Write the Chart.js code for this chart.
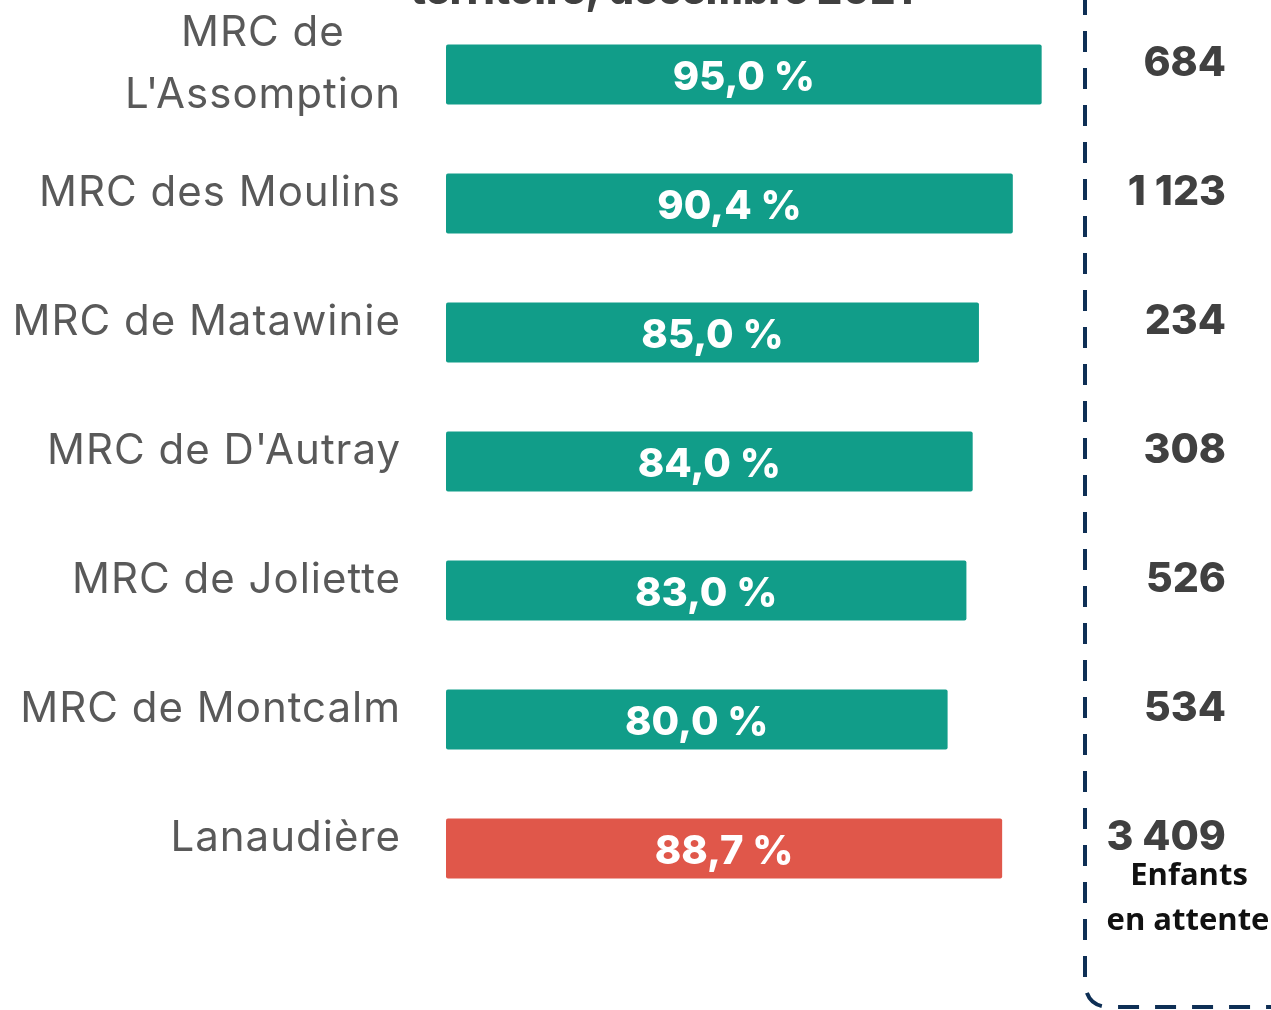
<!DOCTYPE html>
<html>
<head>
<meta charset="utf-8">
<script src="https://cdn.jsdelivr.net/npm/chart.js@4"></script>
<style>
 html, body { margin: 0; padding: 0; background: #ffffff; overflow: hidden; }
 #chart { display: block; }
</style>
</head>
<body>
<canvas id="chart" width="1271" height="1010"></canvas>
<script>
// categories and values
var categories = [
 ["MRC de", "L'Assomption"],
 "MRC des Moulins",
 "MRC de Matawinie",
 "MRC de D'Autray",
 "MRC de Joliette",
 "MRC de Montcalm",
 "Lanaudière"
];
var pourcentages = [95.0, 90.4, 85.0, 84.0, 83.0, 80.0, 88.7];
var enfantsEnAttente = [684, 1123, 234, 308, 526, 534, 3409];
var titre = "territoire, décembre 2021";

var vert = "#119d89";
var rouge = "#e0574a";
var barColors = pourcentages.map(function (v, i) {
 return i === pourcentages.length - 1 ? rouge : vert;
});

function formatPct(v) {
 return v.toFixed(1).replace(".", ",") + " %";
}

function formatNombre(n) {
 return String(n).replace(/\B(?=(\d{3})+(?!\d))/g, " ");
}

// labels, values and the dashed box are drawn on top of the chart
var annotations = {
 id: "annotations",
 afterDatasetsDraw: function (chart) {
  var ctx = chart.ctx;
  var yScale = chart.scales.y;
  var meta = chart.getDatasetMeta(0);
  ctx.save();

  // cut-off title at the very top
  ctx.fillStyle = "#404040";
  ctx.font = "800 40px Inter";
  ctx.textAlign = "center";
  ctx.textBaseline = "alphabetic";
  ctx.fillText(titre, 662, 4);

  ctx.textBaseline = "middle";
  categories.forEach(function (cat, i) {
   var yc = yScale.getPixelForValue(i);
   var bar = meta.data[i];

   // category label on the left
   ctx.fillStyle = "#595959";
   ctx.font = "42px Inter";
   ctx.letterSpacing = "1px";
   if (Array.isArray(cat)) {
    ctx.textAlign = "center";
    var w = Math.max.apply(null, cat.map(function (t) { return ctx.measureText(t).width; }));
    var cx = 401 - w / 2;
    cat.forEach(function (t, k) {
     ctx.fillText(t, cx, yc - 10 + (k - (cat.length - 1) / 2) * 62);
    });
   } else {
    ctx.textAlign = "right";
    ctx.fillText(cat, 401, yc - 10);
   }
   ctx.letterSpacing = "0px";

   // value inside bar
   ctx.fillStyle = "#ffffff";
   ctx.font = "800 40px Inter";
   ctx.textAlign = "center";
   ctx.fillText(formatPct(pourcentages[i]), (bar.base + bar.x) / 2, yc + 3);

   // number of children on the right
   ctx.fillStyle = "#404040";
   ctx.font = "800 41px Inter";
   ctx.textAlign = "right";
   ctx.fillText(formatNombre(enfantsEnAttente[i]), 1226, yc - 11);
  });

  var yLast = yScale.getPixelForValue(categories.length - 1);
  ctx.fillStyle = "#111111";
  ctx.font = "bold 31px 'Open Sans'";
  ctx.textAlign = "center";
  ctx.fillText("Enfants", 1189, yLast + 28);
  ctx.fillText("en attente", 1188, yLast + 73);

  // dashed rounded box
  ctx.strokeStyle = "#0e2f55";
  ctx.lineWidth = 4;
  ctx.setLineDash([21, 16]);
  ctx.beginPath();
  ctx.moveTo(1085, -6);
  ctx.lineTo(1085, 980);
  ctx.quadraticCurveTo(1085, 1007, 1110, 1007);
  ctx.lineTo(1280, 1007);
  ctx.stroke();

  ctx.restore();
 }
};

new Chart(document.getElementById("chart"), {
 type: "bar",
 data: {
  labels: categories,
  datasets: [
   {
    label: "Pourcentage",
    data: pourcentages,
    backgroundColor: barColors,
    borderRadius: 2,
    borderSkipped: false,
    barPercentage: 0.93,
    categoryPercentage: 0.5,
   },
  ],
 },
 options: {
  indexAxis: "y",
  responsive: false,
  animation: false,
  layout: {
   padding: { left: 446, right: 198, top: 10, bottom: 97 },
  },
  scales: {
   x: { display: false, min: 0, max: 100 },
   y: { display: false },
  },
  plugins: {
   legend: { display: false },
   tooltip: { enabled: false },
  },
 },
 plugins: [annotations],
});
</script>
</body>
</html>
